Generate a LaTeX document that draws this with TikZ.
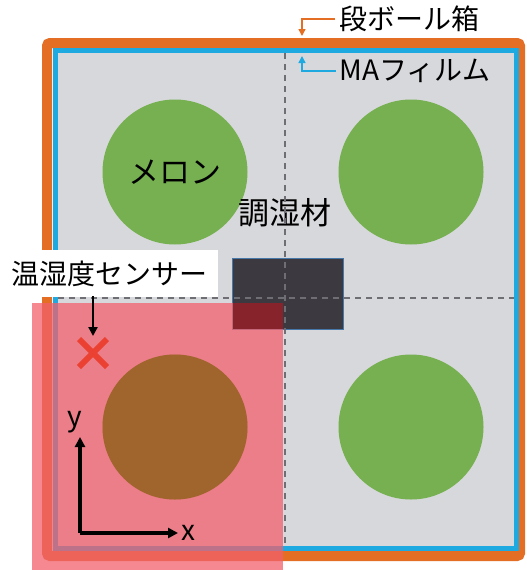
\documentclass[tikz,border=0pt]{standalone}
\usepackage{fontspec}
\setmainfont{Noto Sans CJK JP}
\usetikzlibrary{arrows.meta,shapes.misc}

\definecolor{boxorange}{RGB}{228,110,36}
\definecolor{filmblue}{RGB}{30,170,225}
\definecolor{traygray}{RGB}{215,216,220}
\definecolor{melongreen}{RGB}{118,176,80}
\definecolor{melonbrown}{RGB}{160,100,45}
\definecolor{agentdark}{RGB}{60,58,64}
\definecolor{agentedge}{RGB}{70,120,170}
\definecolor{zonered}{RGB}{242,96,108}
\definecolor{zonedark}{RGB}{135,35,42}
\definecolor{crossred}{RGB}{235,65,50}
\definecolor{dashgray}{RGB}{110,110,116}

\tikzset{
  melon/.style={circle, fill=melongreen, minimum size=145pt, inner sep=0pt},
  bigtext/.style={font=\fontsize{31}{31}\selectfont},
  smalltext/.style={font=\fontsize{28}{28}\selectfont},
  guide/.style={dashgray, dashed, dash pattern=on 6pt off 5pt, line width=1.2pt},
  callout/.style={line width=1.5pt, -{Triangle[length=7pt,width=7pt]}},
  axisline/.style={black, line width=3.5pt, -{Triangle[length=10pt,width=10pt]}}
}

\begin{document}
\begin{tikzpicture}[x=1pt,y=-1pt]
  \useasboundingbox (0,0) rectangle (527,570);

  % cardboard box and film
  \draw[boxorange, line width=10pt, rounded corners=3pt] (47,43) rectangle (520,556);
  \draw[filmblue, line width=5pt, fill=traygray] (55.5,50.5) rectangle (516.5,548.5);

  % melons
  \node[melon, bigtext] (M1) at (175,172) {メロン};
  \node[melon] (M2) at (411,172) {};
  \node[melon] (M3) at (175,427) {};
  \node[melon] (M4) at (411,427) {};

  % humidity control agent
  \node[draw=agentedge, line width=1.5pt, fill=agentdark, minimum width=111pt, minimum height=71pt, inner sep=0pt] (D) at (288,294) {};
  \node[bigtext] (DL) at (285,213) {調湿材};

  % center lines
  \draw[guide] (285,53) -- (285,546);
  \draw[guide] (58,298) -- (514,298);

  % measured zone
  \fill[zonered, opacity=0.75] (32,303) rectangle (283,570);
  \fill[zonedark] (232.75,303) rectangle (283,329.25);
  \node[circle, fill=melonbrown, minimum size=145pt, inner sep=0pt] (M3b) at (M3) {};

  % sensor
  \node[cross out, draw=crossred, line width=6pt, minimum size=22pt, inner sep=0pt] (X) at (93,353) {};
  \node[fill=white, smalltext, minimum width=218pt, minimum height=47pt, anchor=north west] (S) at (0,250) {温湿度センサー};
  \draw[black, line width=2.5pt, -{Triangle[length=9pt,width=9pt]}, shorten <=-1pt, shorten >=3pt] (X |- S.south) -- (X.north);

  % axes
  \coordinate (O) at (80,533);
  \coordinate (XE) at (178,533);
  \coordinate (YE) at (80,437);
  \draw[axisline] (O) -- (XE);
  \draw[axisline] (O) -- (YE);
  \node[smalltext, anchor=west] (XL) at (XE) {x};
  \node[smalltext, anchor=south] (YL) at ([xshift=-5pt]YE) {y};

  % callouts
  \node[smalltext] (B) at (409,19) {段ボール箱};
  \coordinate (BT) at (302,36);
  \draw[boxorange, callout] (B.west) -| (BT);
  \node[smalltext] (F) at (415,71) {MAフィルム};
  \coordinate (FT) at (302,56);
  \draw[filmblue, callout] (F.west) -| (FT);
\end{tikzpicture}
\end{document}
